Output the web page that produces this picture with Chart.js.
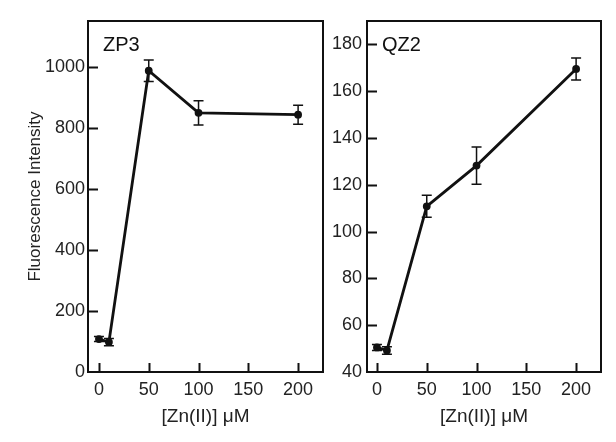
<!DOCTYPE html>
<html>
<head>
<meta charset="utf-8">
<script src="https://cdn.jsdelivr.net/npm/chart.js@4"></script>
<style>
    body { margin: 0; background: #fff; }
    .panel { position: absolute; top: 0; }
</style>
</head>
<body>
<div class="panel" style="left:0;width:330px;height:442px"><canvas id="zp3Chart"></canvas></div>
<div class="panel" style="left:330px;width:286px;height:442px"><canvas id="qz2Chart"></canvas></div>
<script>
// zinc concentrations (uM)
const zinc = [0, 10, 50, 100, 200];
const xTicks = [0, 50, 100, 150, 200];

const zp3Mean = [108, 98, 987, 849, 843];
const zp3Err = [8, 12, 35, 40, 31];
const zp3Ticks = [0, 200, 400, 600, 800, 1000];

const qz2Mean = [50.5, 49.2, 110.8, 128.2, 169.5];
const qz2Err = [1.3, 1.6, 4.7, 8, 4.7];
const qz2Ticks = [40, 60, 80, 100, 120, 140, 160, 180];

const FONT = 'Liberation Sans, Arial, Helvetica, sans-serif';

// frame, inward ticks, error bars and the panel name
const framePlugin = {
    id: 'frame',
    beforeDatasetsDraw(chart, args, opts) {
        const { ctx, chartArea: a, scales: { x, y } } = chart;
        ctx.save();
        ctx.strokeStyle = '#111';
        ctx.lineWidth = 2;
        ctx.strokeRect(a.left, a.top, a.right - a.left, a.bottom - a.top);
        ctx.beginPath();
        x.ticks.forEach(t => {
            const px = Math.round(x.getPixelForValue(t.value)) + 0.5;
            ctx.moveTo(px, a.bottom);
            ctx.lineTo(px, a.bottom - 9);
        });
        y.ticks.forEach(t => {
            const py = Math.round(y.getPixelForValue(t.value)) + 0.5;
            if (py >= a.bottom - 1) return;
            ctx.moveTo(a.left, py);
            ctx.lineTo(a.left + 10, py);
        });
        ctx.stroke();

        // error bars
        ctx.lineWidth = 1.5;
        ctx.beginPath();
        opts.means.forEach((m, i) => {
            const px = x.getPixelForValue(zinc[i]);
            const top = y.getPixelForValue(m + opts.errs[i]);
            const bot = y.getPixelForValue(m - opts.errs[i]);
            ctx.moveTo(px, top); ctx.lineTo(px, bot);
            ctx.moveTo(px - 5, top); ctx.lineTo(px + 5, top);
            ctx.moveTo(px - 5, bot); ctx.lineTo(px + 5, bot);
        });
        ctx.stroke();

        ctx.fillStyle = '#111';
        ctx.font = '20px ' + FONT;
        ctx.textBaseline = 'alphabetic';
        ctx.fillText(opts.name, a.left + 15, 51);
        ctx.restore();
    }
};

function makeChart(id, name, means, errs, yMin, yMax, yTicks, opt) {
    const ctx = document.getElementById(id).getContext('2d');
    return new Chart(ctx, {
        type: 'scatter',
        data: {
            datasets: [{
                data: zinc.map((z, i) => ({ x: z, y: means[i] })),
                showLine: true,
                borderColor: '#111',
                backgroundColor: '#111',
                borderWidth: 2.8,
                pointRadius: 2.5,
                pointHoverRadius: 2.5
            }]
        },
        options: {
            responsive: true,
            maintainAspectRatio: false,
            animation: false,
            layout: { padding: { top: 21, right: opt.padRight, left: 0, bottom: 0 } },
            plugins: {
                legend: { display: false },
                tooltip: { enabled: false },
                frame: { name: name, means: means, errs: errs }
            },
            scales: {
                x: {
                    type: 'linear',
                    min: opt.xMin,
                    max: 225,
                    afterBuildTicks: s => { s.ticks = xTicks.map(v => ({ value: v })); },
                    afterFit: s => { s.height = 70; },
                    grid: { display: false, drawTicks: false },
                    border: { display: false },
                    ticks: { color: '#222', padding: 7, maxRotation: 0, font: { family: FONT, size: 18 },
                        callback: v => String(v) },
                    title: {
                        display: true,
                        text: '[Zn(II)] μM',
                        color: '#222',
                        padding: { top: 0, bottom: 14 },
                        font: { family: FONT, size: 19 }
                    }
                },
                y: {
                    min: yMin,
                    max: yMax,
                    afterBuildTicks: s => { s.ticks = yTicks.map(v => ({ value: v })); },
                    afterFit: s => { s.width = opt.yWidth; },
                    grid: { display: false, drawTicks: false },
                    border: { display: false },
                    ticks: { color: '#222', padding: opt.yPad, font: { family: FONT, size: 18 },
                        callback: v => String(v) },
                    title: {
                        display: !!opt.yTitle,
                        text: opt.yTitle || '',
                        color: '#222',
                        padding: { top: 25, bottom: 0 },
                        font: { family: FONT, size: 17 }
                    }
                }
            }
        },
        plugins: [framePlugin]
    });
}

makeChart('zp3Chart', 'ZP3', zp3Mean, zp3Err, 0, 1150, zp3Ticks,
    { xMin: -11, padRight: 7, yWidth: 88, yPad: 3, yTitle: 'Fluorescence Intensity' });
makeChart('qz2Chart', 'QZ2', qz2Mean, qz2Err, 40, 190, qz2Ticks,
    { xMin: -10, padRight: 15, yWidth: 37, yPad: 5 });
</script>
</body>
</html>
